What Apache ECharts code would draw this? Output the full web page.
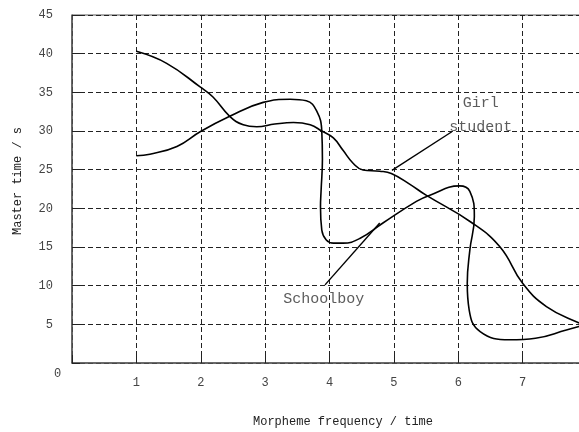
<!DOCTYPE html>
<html>
<head>
<meta charset="utf-8">
<script src="https://cdn.jsdelivr.net/npm/echarts@6/dist/echarts.min.js"></script>
<style>
html,body{margin:0;padding:0;background:#fff;overflow:hidden;width:579px;height:432px;}
#chart{width:600px;height:432px;}
</style>
</head>
<body>
<div id="chart"></div>
<script>
// X tick values / Y tick values
var xTicks = [0, 1, 2, 3, 4, 5, 6, 7, 8];
var yTicks = [0, 5, 10, 15, 20, 25, 30, 35, 40, 45];

// Girl student curve (traced points, in path order)
var girlX = [1.0, 1.47, 1.99, 2.19, 2.45, 2.66, 2.87, 3.15, 3.44, 3.7, 3.88, 4.06, 4.21, 4.37, 4.52, 4.78, 4.96, 5.25, 5.5, 6.2, 6.65, 7.0, 7.37, 7.87, 8.0];
var girlY = [40.3, 38.75, 35.7, 34.4, 31.9, 30.8, 30.55, 30.9, 31.1, 30.8, 30.0, 29.1, 27.5, 25.8, 24.96, 24.8, 24.5, 23.1, 21.7, 18.2, 15.0, 10.3, 7.3, 5.2, 4.9];

// Schoolboy curve (traced points, in path order)
var boyX = [1.0, 1.21, 1.63, 1.99, 2.45, 2.97, 3.39, 3.64, 3.8, 3.88, 3.89, 3.87, 3.86, 3.88, 3.95, 4.06, 4.21, 4.47, 4.83, 5.35, 5.56, 6.02, 6.18, 6.25, 6.18, 6.14, 6.17, 6.34, 6.8, 7.2, 7.68, 8.0];
var boyY = [26.8, 27.0, 28.0, 29.9, 31.9, 33.7, 34.1, 33.9, 32.6, 30.0, 26.3, 22.4, 20.2, 17.2, 15.9, 15.5, 15.5, 16.1, 18.1, 20.9, 21.7, 22.9, 22.2, 18.9, 14.6, 10.3, 6.85, 4.05, 3.0, 3.2, 4.27, 5.0];

// Leader lines for annotations
var boyLeaderX = [3.93, 4.78];
var boyLeaderY = [10.1, 18.1];
var girlLeaderX = [5.9, 4.97];
var girlLeaderY = [29.9, 24.9];

// Annotation labels
var boyLabel = {text: 'Schoolboy', x: 3.91, y: 8.3};
var girlLabel = {text: 'Girl\nstudent', x: 6.35, y: 32.1};

function zip(xs, ys) { return xs.map(function (v, i) { return [v, ys[i]]; }); }

var FONT = '"Liberation Mono", "DejaVu Sans Mono", monospace';
var chart = echarts.init(document.getElementById('chart'));
chart.setOption({
  animation: false,
  backgroundColor: '#fff',
  grid: {left: 72, top: 15, right: 13, bottom: 69, outerBoundsMode: 'none', show: true, borderColor: '#555', borderWidth: 1},
  xAxis: {
    type: 'value', min: xTicks[0], max: xTicks[xTicks.length - 1], interval: 1,
    name: 'Morpheme frequency / time', nameLocation: 'middle', nameGap: 53,
    nameTextStyle: {fontFamily: FONT, fontSize: 12, color: '#222', padding: [0, 0, 0, 27]},
    axisLine: {show: true, lineStyle: {color: '#555', width: 1.5}},
    axisTick: {show: true, inside: true, length: 8, lineStyle: {color: '#222'}},
    axisLabel: {margin: 14, fontFamily: FONT, fontSize: 12, color: '#444',
      formatter: function (v) { return v === 0 ? '' : String(v); }},
    splitLine: {show: true, lineStyle: {color: '#222', type: [5, 3], width: 1}}
  },
  yAxis: {
    type: 'value', min: yTicks[0], max: yTicks[yTicks.length - 1], interval: 5,
    name: 'Master time / s', nameLocation: 'middle', nameGap: 48,
    nameTextStyle: {fontFamily: FONT, fontSize: 12, color: '#222', padding: [0, 0, 0, 16]},
    axisLine: {show: true, lineStyle: {color: '#555', width: 1.5}},
    axisTick: {show: true, inside: true, length: 8, lineStyle: {color: '#222'}},
    axisLabel: {margin: 19, fontFamily: FONT, fontSize: 12, color: '#444',
      formatter: function (v) { return v === 0 ? '' : String(v); }},
    splitLine: {show: true, lineStyle: {color: '#222', type: [5, 3], width: 1}}
  },
  graphic: [{type: 'text', left: 54, top: 368, style: {text: '0', font: '12px ' + FONT, fill: '#444'}}],
  series: [
    {type: 'line', data: zip(girlX, girlY), smooth: 0.45, symbol: 'none', lineStyle: {color: '#000', width: 1.6}},
    {type: 'line', data: zip(boyX, boyY), smooth: 0.45, symbol: 'none', lineStyle: {color: '#000', width: 1.6}},
    {type: 'line', data: zip(boyLeaderX, boyLeaderY), symbol: 'none', lineStyle: {color: '#000', width: 1.4}},
    {type: 'line', data: zip(girlLeaderX, girlLeaderY), symbol: 'none', lineStyle: {color: '#000', width: 1.4}},
    {type: 'scatter', symbolSize: 0, silent: true,
      data: [[boyLabel.x, boyLabel.y], [girlLabel.x, girlLabel.y]],
      label: {show: true, position: 'inside', fontFamily: FONT, fontSize: 15, color: '#333', lineHeight: 24, align: 'center',
        formatter: function (p) { return p.dataIndex === 0 ? boyLabel.text : girlLabel.text; }}}
  ]
});
</script>
</body>
</html>
